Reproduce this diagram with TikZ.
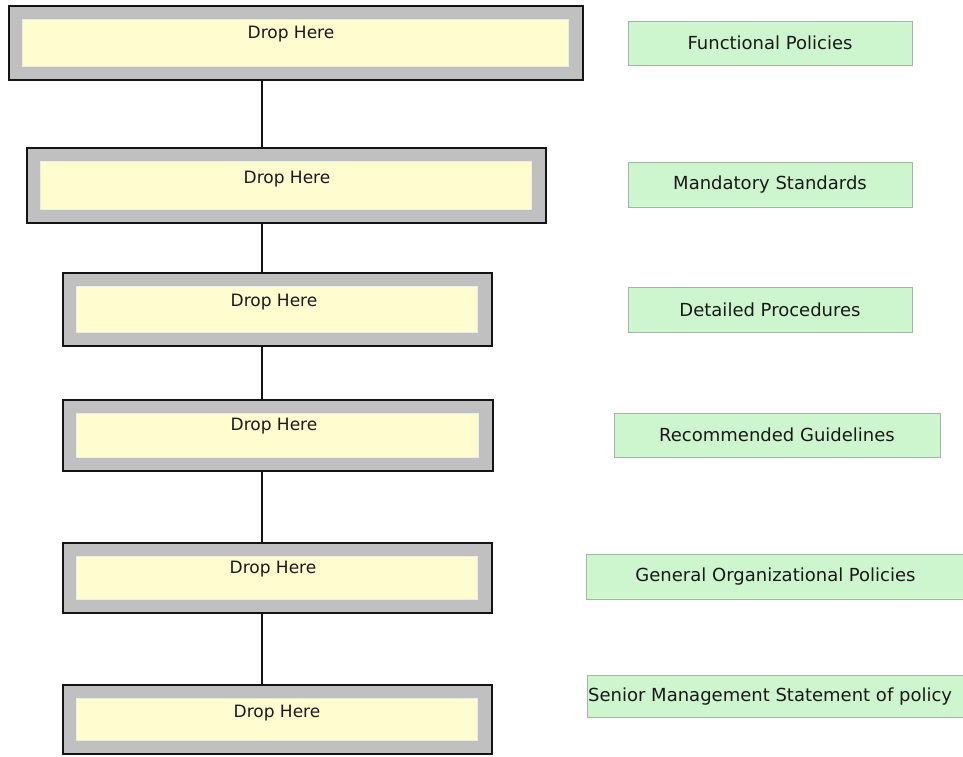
\documentclass[tikz,border=0pt]{standalone}
\usepackage{fontspec}
\newfontfamily\labelfont{DejaVu Sans}
\definecolor{boxline}{RGB}{20,20,20}
\definecolor{framegray}{RGB}{192,192,192}
\definecolor{framelight}{RGB}{236,236,230}
\definecolor{dropyellow}{RGB}{255,253,208}
\definecolor{labelgreen}{RGB}{206,246,206}
\definecolor{greenline}{RGB}{165,180,165}
\definecolor{textdark}{RGB}{25,25,25}
\tikzset{
  outerbox/.style={draw=boxline, line width=2.6pt, fill=framegray, inner sep=0pt, outer sep=0pt},
  innerbox/.style={draw=framelight, line width=1.4pt, fill=dropyellow, inner sep=0pt, outer sep=0pt},
  droptext/.style={font=\labelfont\fontsize{17}{20}\selectfont, text=textdark, inner sep=0pt},
  greenbox/.style={draw=greenline, line width=0.8pt, fill=labelgreen, inner sep=0pt, outer sep=0pt},
  greentext/.style={font=\labelfont\fontsize{18}{21}\selectfont, text=textdark, inner sep=0pt},
  spine/.style={draw=boxline, line width=2.2pt}
}
% #1 name, #2 x1, #3 y1, #4 x2, #5 y2, #6 text x, #7 text y
\newcommand\DropBox[7]{%
  \node[outerbox, minimum width={(#4-#2)*1pt}, minimum height={(#5-#3)*1pt}]
    (#1) at ({(#2+#4)/2},{(#3+#5)/2}) {};
  \node[innerbox, minimum width={(#4-#2-28)*1pt}, minimum height={(#5-#3-27)*1pt}]
    (#1in) at ({(#2+#4)/2-0.5},{(#3+#5)/2}) {};
  \node[droptext] (#1txt) at (#6,#7) {Drop Here};
}
% #1 name, #2 x1, #3 y1, #4 x2, #5 y2
\newcommand\GreenBox[5]{%
  \node[greenbox, minimum width={(#4-#2)*1pt}, minimum height={(#5-#3)*1pt}]
    (#1) at ({(#2+#4)/2},{(#3+#5)/2}) {};
}
\begin{document}
\begin{tikzpicture}[x=1pt,y=-1pt]
\useasboundingbox (0,0) rectangle (963,756);
\fill[white] (0,0) rectangle (963,756);
\coordinate (axis) at (262,0);

\DropBox{d1}{9}{6}{583}{80}{291}{34}
\DropBox{d2}{27}{148}{546}{223}{287}{179}
\DropBox{d3}{63}{273}{492}{346}{274}{302}
\DropBox{d4}{63}{400}{493}{471}{274}{426}
\DropBox{d5}{63}{543}{492}{613}{273}{569}
\DropBox{d6}{63}{685}{492}{754}{277}{713}

\draw[spine] (d1.south -| axis) -- (d2.north -| axis);
\draw[spine] (d2.south -| axis) -- (d3.north -| axis);
\draw[spine] (d3.south -| axis) -- (d4.north -| axis);
\draw[spine] (d4.south -| axis) -- (d5.north -| axis);
\draw[spine] (d5.south -| axis) -- (d6.north -| axis);

\GreenBox{g1}{628}{21}{912}{65}
\GreenBox{g2}{628}{162}{912}{207}
\GreenBox{g3}{628}{287}{912}{332}
\GreenBox{g4}{614}{413}{940}{457}
\GreenBox{g5}{586}{554}{967}{599}
\GreenBox{g6}{587}{675}{967}{717}

\node[greentext] (t1) at (g1.center) {Functional Policies};
\node[greentext] (t2) at (g2.center) {Mandatory Standards};
\node[greentext] (t3) at (g3.center) {Detailed Procedures};
\node[greentext] (t4) at (g4.center) {Recommended Guidelines};
\node[greentext] (t5) at ([xshift=-1]g5.center) {General Organizational Policies};
\node[greentext, anchor=west] (t6) at ([xshift=1,yshift=-1]g6.west) {Senior Management Statement of policy};
\end{tikzpicture}
\end{document}
